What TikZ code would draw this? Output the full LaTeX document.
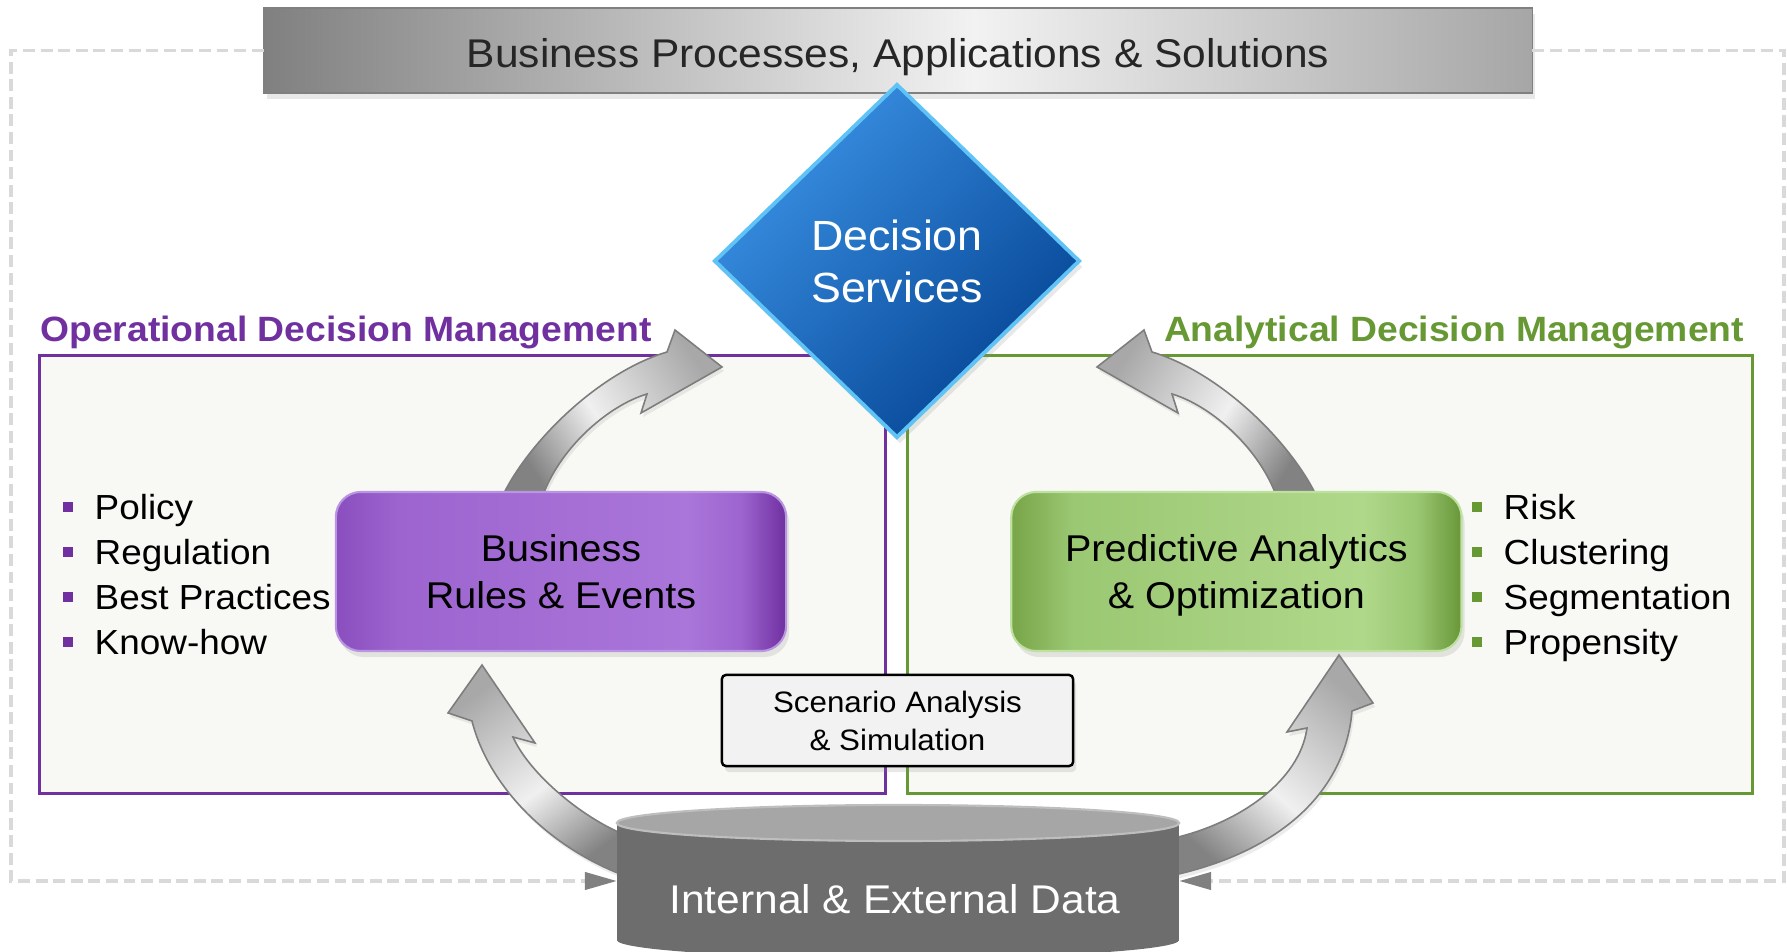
\documentclass[tikz,border=0pt]{standalone}
\usepackage{fontspec}
\setmainfont{Liberation Sans}[FakeStretch=1.06]
\usetikzlibrary{positioning,shapes.geometric,arrows.meta,shadows}
\definecolor{odmpurple}{RGB}{112,48,160}
\definecolor{admgreen}{RGB}{102,153,51}
\definecolor{panelfill}{RGB}{248,249,245}
\definecolor{framegray}{RGB}{217,217,217}
\definecolor{tipgray}{RGB}{128,128,128}
\definecolor{textgray}{RGB}{38,38,38}
\definecolor{barleft}{RGB}{128,128,128}
\definecolor{barmid}{RGB}{242,242,242}
\definecolor{barright}{RGB}{166,166,166}
\definecolor{decisionlight}{RGB}{58,145,228}
\definecolor{decisiondark}{RGB}{5,68,148}
\definecolor{decisionedge}{RGB}{95,195,245}
\definecolor{rulesleft}{RGB}{138,78,190}
\definecolor{rulesmid}{RGB}{157,100,207}
\definecolor{ruleslight}{RGB}{170,118,218}
\definecolor{rulesdark}{RGB}{112,48,160}
\definecolor{rulesedge}{RGB}{185,150,225}
\definecolor{predictleft}{RGB}{120,165,72}
\definecolor{predictmid}{RGB}{155,200,115}
\definecolor{predictlight}{RGB}{176,216,138}
\definecolor{predictdark}{RGB}{104,150,56}
\definecolor{predictedge}{RGB}{190,225,160}
\definecolor{arrowdark}{RGB}{130,130,130}
\definecolor{arrowlight}{RGB}{240,240,240}
\definecolor{arrowmid}{RGB}{168,168,168}
\definecolor{arrowedge}{RGB}{125,125,125}
\definecolor{scenariofill}{RGB}{242,242,242}
\definecolor{databody}{RGB}{109,109,109}
\definecolor{datatop}{RGB}{166,166,166}
\definecolor{dataedge}{RGB}{190,190,190}

\pgfdeclarehorizontalshading{barshade}{100bp}{color(0bp)=(barleft); color(25bp)=(barleft); color(53bp)=(barmid); color(75bp)=(barright); color(100bp)=(barright)}
\pgfdeclarehorizontalshading{rulesshade}{100bp}{color(0bp)=(rulesleft); color(25bp)=(rulesleft); color(32bp)=(rulesmid); color(64bp)=(ruleslight); color(70bp)=(rulesmid); color(75bp)=(rulesdark); color(100bp)=(rulesdark)}
\pgfdeclarehorizontalshading{predictshade}{100bp}{color(0bp)=(predictleft); color(25bp)=(predictleft); color(32bp)=(predictmid); color(64bp)=(predictlight); color(70bp)=(predictmid); color(75bp)=(predictdark); color(100bp)=(predictdark)}
\pgfdeclarehorizontalshading{arrowshade}{100bp}{color(0bp)=(arrowdark); color(25bp)=(arrowdark); color(46bp)=(arrowlight); color(75bp)=(arrowmid); color(100bp)=(arrowmid)}

\newcommand{\sqbullet}[1]{\textcolor{#1}{\rule[0.08cm]{0.1cm}{0.1cm}}\hspace{0.22cm}}

\tikzset{
    softshadow/.style={drop shadow={opacity=0.18, shadow xshift=0.03cm, shadow yshift=-0.06cm}},
    barbox/.style={rectangle, minimum width=12.68cm, minimum height=0.85cm, inner sep=0, outer sep=0, shade, shading=barshade, draw=barleft, line width=0.5pt, text=textgray, text height=0.42cm, text depth=0.09cm, font=\fontsize{11.4}{13.7}\selectfont, softshadow},
    decision/.style={diamond, minimum width=3.64cm, minimum height=3.52cm, inner sep=0, outer sep=0, top color=decisionlight, bottom color=decisiondark, shading angle=45, draw=decisionedge, line width=1.1pt, text=white, align=center, font=\fontsize{12}{14.8}\selectfont, softshadow},
    panel/.style={rectangle, minimum width=8.45cm, minimum height=4.37cm, fill=panelfill, line width=0.85pt, inner sep=0, outer sep=0},
    paneltitle/.style={inner sep=0, font=\bfseries\fontsize{10}{12}\selectfont},
    procbox/.style={rectangle, rounded corners=0.25cm, minimum width=4.5cm, minimum height=1.59cm, inner sep=0, outer sep=0, shade, line width=0.6pt, align=center, text depth=0pt, font=\fontsize{10.6}{13.6}\selectfont, softshadow},
    listitem/.style={inner sep=0, anchor=base west, font=\fontsize{9.9}{12}\selectfont},
    scenariobox/.style={rectangle, rounded corners=0.04cm, minimum width=3.51cm, minimum height=0.91cm, inner sep=0, fill=scenariofill, draw=black, line width=0.7pt, align=center, font=\fontsize{8.4}{10.8}\selectfont, softshadow},
    datalabel/.style={inner sep=0, text=white, font=\fontsize{11.4}{13}\selectfont},
    cyclearrow/.style={shade, shading=arrowshade, draw=arrowedge, line width=0.45pt, drop shadow={opacity=0.15, shadow xshift=0.02cm, shadow yshift=-0.04cm}},
    framedash/.style={draw=framegray, line width=1.1pt, dash pattern=on 3.4pt off 1.6pt, -{Triangle[length=0.32cm, width=0.17cm, color=tipgray]}}
}

\begin{document}
\begin{tikzpicture}[x=0.01cm, y=-0.01cm]
    \useasboundingbox (0,0) rectangle (1787,952);
    \clip (0,0) rectangle (1787,952);

    \node[barbox] (bar) at (898,50.5) {Business Processes, Applications \& Solutions};

    \node[panel, draw=odmpurple] (odm) at (462.5,574.5) {};
    \node[panel, draw=admgreen, right=0.22cm of odm] (adm) {};
    \node[paneltitle, text=odmpurple, anchor=base west] (odmtitle) at ([yshift=0.14cm]odm.north west) {Operational Decision Management};
    \node[paneltitle, text=admgreen, anchor=base east] (admtitle) at ([xshift=-0.08cm, yshift=0.14cm]adm.north east) {Analytical Decision Management};

    \path[cyclearrow, shading angle=33] (503,495) .. controls (530,440) and (600,372) .. (667,352) -- (675,330) -- (722,367) -- (641,413) -- (647,394) .. controls (610,405) and (562,445) .. (543,495) -- cycle;
    \path[cyclearrow, shading angle=147] (1316,495) .. controls (1289,440) and (1219,372) .. (1152,352) -- (1144,330) -- (1097,367) -- (1178,413) -- (1172,394) .. controls (1209,405) and (1257,445) .. (1276,495) -- cycle;

    \node[decision] (ds) at (897,261) {Decision\\Services};

    \node[procbox, shading=rulesshade, draw=rulesedge] (br) at (561,571.5) {Business\\Rules \& Events};
    \node[procbox, shading=predictshade, draw=predictedge, right=2.25cm of br] (pa) {Predictive Analytics\\\& Optimization};

    \node[listitem] (policy) at (62,520) {\sqbullet{odmpurple}Policy};
    \node[listitem] (regulation) at (62,565) {\sqbullet{odmpurple}Regulation};
    \node[listitem] (practices) at (62,610) {\sqbullet{odmpurple}Best Practices};
    \node[listitem] (knowhow) at (62,655) {\sqbullet{odmpurple}Know-how};
    \node[listitem] (risk) at (1471,520) {\sqbullet{admgreen}Risk};
    \node[listitem] (clustering) at (1471,565) {\sqbullet{admgreen}Clustering};
    \node[listitem] (segmentation) at (1471,610) {\sqbullet{admgreen}Segmentation};
    \node[listitem] (propensity) at (1471,655) {\sqbullet{admgreen}Propensity};

    \node[scenariobox] (scenario) at (897.5,720.5) {Scenario Analysis\\\& Simulation};

    \path[cyclearrow, shading angle=127] (628,877) .. controls (548,848) and (488,785) .. (472,721) -- (448,713) -- (482,665) -- (535,743) -- (513,737) .. controls (530,775) and (585,820) .. (628,836) -- cycle;
    \path[cyclearrow, shading angle=49] (1165,877) .. controls (1275,855) and (1345,795) .. (1352,711) -- (1373,703) -- (1339,655) -- (1287,732) -- (1307,728) .. controls (1300,780) and (1240,825) .. (1165,840) -- cycle;

    \fill[databody] (898,940) ellipse [x radius=2.81cm, y radius=0.18cm];
    \fill[databody] (617,823) rectangle (1179,940);
    \filldraw[fill=datatop, draw=dataedge, line width=0.6pt] (898,823) ellipse [x radius=2.81cm, y radius=0.18cm];
    \node[datalabel, anchor=base] (data) at (895,913) {Internal \& External Data};

    \coordinate (dataW) at (617,881);
    \coordinate (dataE) at (1179,881);
    \draw[framedash] (bar.west) -| (11,881) -- (dataW);
    \draw[framedash] (bar.east) -| (1784,881) -- (dataE);
\end{tikzpicture}
\end{document}
